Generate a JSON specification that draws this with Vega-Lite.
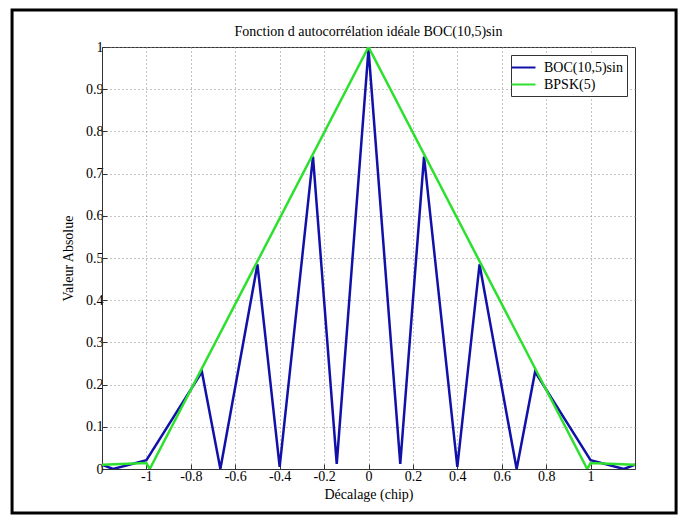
{
  "$schema": "https://vega.github.io/schema/vega-lite/v6.json",
  "autosize": "none",
  "width": 533,
  "height": 422,
  "padding": {"left": 102, "top": 47, "right": 53, "bottom": 56},
  "background": "white",
  "title": {
    "text": "Fonction d autocorrélation idéale BOC(10,5)sin",
    "font": "Liberation Serif",
    "fontSize": 14,
    "fontWeight": "normal",
    "color": "black",
    "anchor": "middle",
    "frame": "group",
    "offset": -31
  },
  "config": {
    "view": {"stroke": "#333", "strokeWidth": 1},
    "axis": {
      "labelFont": "Liberation Serif",
      "labelFontSize": 14,
      "labelColor": "black",
      "titleFont": "Liberation Serif",
      "titleFontSize": 14,
      "titleFontWeight": "normal",
      "titleColor": "black",
      "gridColor": "#888",
      "gridDash": [1, 3],
      "gridWidth": 1,
      "gridOpacity": 1,
      "domainColor": "#333",
      "tickColor": "#333",
      "tickSize": -5
    }
  },
  "datasets": {
    "curves": [
      {"tau": -1.2, "val": 0.01, "series": "BOC(10,5)sin"},
      {"tau": -1.15, "val": 0.0, "series": "BOC(10,5)sin"},
      {"tau": -1.0, "val": 0.021, "series": "BOC(10,5)sin"},
      {"tau": -0.75, "val": 0.23, "series": "BOC(10,5)sin"},
      {"tau": -0.667, "val": 0.0, "series": "BOC(10,5)sin"},
      {"tau": -0.5, "val": 0.485, "series": "BOC(10,5)sin"},
      {"tau": -0.4, "val": 0.005, "series": "BOC(10,5)sin"},
      {"tau": -0.25, "val": 0.74, "series": "BOC(10,5)sin"},
      {"tau": -0.143, "val": 0.012, "series": "BOC(10,5)sin"},
      {"tau": 0.0, "val": 0.995, "series": "BOC(10,5)sin"},
      {"tau": 0.143, "val": 0.012, "series": "BOC(10,5)sin"},
      {"tau": 0.25, "val": 0.74, "series": "BOC(10,5)sin"},
      {"tau": 0.4, "val": 0.005, "series": "BOC(10,5)sin"},
      {"tau": 0.5, "val": 0.485, "series": "BOC(10,5)sin"},
      {"tau": 0.667, "val": 0.0, "series": "BOC(10,5)sin"},
      {"tau": 0.75, "val": 0.23, "series": "BOC(10,5)sin"},
      {"tau": 1.0, "val": 0.021, "series": "BOC(10,5)sin"},
      {"tau": 1.15, "val": 0.0, "series": "BOC(10,5)sin"},
      {"tau": 1.2, "val": 0.01, "series": "BOC(10,5)sin"},
      {"tau": -1.2, "val": 0.01, "series": "BPSK(5)"},
      {"tau": -1.0, "val": 0.014, "series": "BPSK(5)"},
      {"tau": -0.985, "val": 0.0, "series": "BPSK(5)"},
      {"tau": 0.0, "val": 1.0, "series": "BPSK(5)"},
      {"tau": 0.985, "val": 0.0, "series": "BPSK(5)"},
      {"tau": 1.0, "val": 0.014, "series": "BPSK(5)"},
      {"tau": 1.2, "val": 0.01, "series": "BPSK(5)"}
    ]
  },
  "layer": [
    {
      "data": {"name": "curves"},
      "mark": {"type": "line", "strokeWidth": 2.5, "clip": true},
      "encoding": {
        "x": {
          "field": "tau",
          "type": "quantitative",
          "scale": {"domain": [-1.2, 1.2], "nice": false, "zero": false},
          "axis": {
            "title": "Décalage (chip)",
            "values": [-1, -0.8, -0.6, -0.4, -0.2, 0, 0.2, 0.4, 0.6, 0.8, 1],
            "labelExpr": "'' + datum.value",
            "grid": true,
            "labelPadding": 5,
            "titlePadding": 4
          }
        },
        "y": {
          "field": "val",
          "type": "quantitative",
          "scale": {"domain": [0, 1], "nice": false},
          "axis": {
            "title": "Valeur Absolue",
            "values": [0, 0.1, 0.2, 0.3, 0.4, 0.5, 0.6, 0.7, 0.8, 0.9, 1],
            "labelExpr": "'' + datum.value",
            "grid": true,
            "labelPadding": 4,
            "titlePadding": 10
          }
        },
        "color": {
          "field": "series",
          "type": "nominal",
          "scale": {"domain": ["BOC(10,5)sin", "BPSK(5)"], "range": ["#1111aa", "#2ee02e"]},
          "legend": {
            "title": null,
            "orient": "top-right",
            "offset": 8,
            "symbolType": "M-1.6,0H1.6",
            "symbolSize": 225,
            "symbolStrokeWidth": 2,
            "labelFont": "Liberation Serif",
            "labelFontSize": 14,
            "labelColor": "black",
            "labelOffset": 12,
            "strokeColor": "#333",
            "fillColor": "white",
            "padding": 4,
            "rowPadding": 1
          }
        }
      }
    },
    {
      "data": {"values": [{}]},
      "mark": {"type": "rect", "fill": "transparent", "stroke": "black", "strokeWidth": 3},
      "encoding": {
        "x": {"datum": -1.605, "type": "quantitative"},
        "x2": {"datum": 1.385},
        "y": {"datum": 1.0877, "type": "quantitative"},
        "y2": {"datum": -0.104}
      }
    }
  ]
}
